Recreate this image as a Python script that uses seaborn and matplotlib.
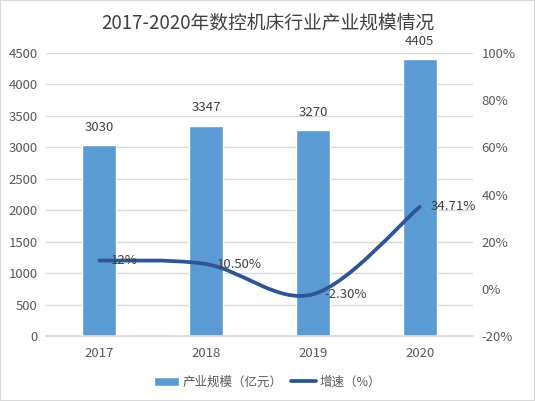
import numpy as np
import pandas as pd
import matplotlib
matplotlib.use("Agg")
import matplotlib.pyplot as plt
from matplotlib.path import Path
from matplotlib.patches import PathPatch, Rectangle
from matplotlib.lines import Line2D
from matplotlib.ticker import FuncFormatter, MultipleLocator
import seaborn as sns

years = ["2017", "2018", "2019", "2020"]
scale = [3030, 3347, 3270, 4405]
growth = [12.0, 10.5, -2.3, 34.71]
growth_labels = ["12%", "10.50%", "-2.30%", "34.71%"]
title = "2017-2020年数控机床行业产业规模情况"
bar_name = "产业规模（亿元）"
line_name = "增速（%）"

sns.set_theme(style="white")
plt.rcParams['font.family'] = ['Noto Sans CJK SC', 'DejaVu Sans']

BAR = "#5B9BD5"
LINE = "#2F5597"
TXT = "#595959"
GRID = "#D9D9D9"

fig = plt.figure(figsize=(5.35, 4.01), dpi=100)
ax = fig.add_axes([46/535, 1-336/401, (473-46)/535, (336-53)/401])

df = pd.DataFrame({"year": years, "scale": scale})
sns.barplot(data=df, x="year", y="scale", color=BAR, width=0.32, ax=ax,
            saturation=1, zorder=2)
ax.set_ylim(0, 4500)
ax.set_xlim(-0.5, 3.5)
ax.yaxis.set_major_locator(MultipleLocator(500))
ax.grid(axis="y", color=GRID, linewidth=1, zorder=0)
ax.set_axisbelow(True)
for s in ["top", "right", "left"]:
    ax.spines[s].set_visible(False)
ax.spines["bottom"].set_color(GRID)
ax.set_xlabel("")
ax.set_ylabel("")
ax.tick_params(axis="both", length=0, colors=TXT, labelsize=9.5)
ax.tick_params(axis="x", pad=8)
ax.tick_params(axis="y", pad=6)

for i, v in enumerate(scale):
    ax.annotate(str(v), (i, v), xytext=(0, 8), textcoords="offset points",
                ha="center", va="bottom", fontsize=9.5, color="#404040")

ax2 = ax.twinx()
ax2.set_ylim(-20, 100)
ax2.yaxis.set_major_locator(MultipleLocator(20))
ax2.yaxis.set_major_formatter(FuncFormatter(lambda v, p: f"{v:.0f}%"))
for s in ax2.spines.values():
    s.set_visible(False)
ax2.tick_params(axis="y", length=0, colors=TXT, labelsize=9.5, pad=6)
ax2.grid(False)

# smooth line (Catmull-Rom Bezier through data points)
xs = np.arange(len(growth), dtype=float)
ys = np.array(growth, dtype=float)
pts = np.column_stack([xs, ys])
verts = [tuple(pts[0])]
codes = [Path.MOVETO]
n = len(pts)
for i in range(n - 1):
    p0 = pts[i - 1] if i > 0 else pts[i]
    p1 = pts[i]
    p2 = pts[i + 1]
    p3 = pts[i + 2] if i + 2 < n else pts[i + 1]
    c1 = p1 + (p2 - p0) / 6.0
    c2 = p2 - (p3 - p1) / 6.0
    verts += [tuple(c1), tuple(c2), tuple(p2)]
    codes += [Path.CURVE4] * 3
patch = PathPatch(Path(verts, codes), facecolor="none", edgecolor=LINE,
                  linewidth=2.7, capstyle="round", joinstyle="round", zorder=3)
ax2.add_patch(patch)

for i, (v, lab) in enumerate(zip(growth, growth_labels)):
    ax2.annotate(lab, (i, v), xytext=(8, 0), textcoords="offset points",
                 ha="left", va="center", fontsize=9.5, color="#404040")

fig.text(0.5, 1 - 23/401, title, ha="center", va="center", fontsize=13.5,
         color="#404040")

handles = [Rectangle((0, 0), 1, 1, facecolor=BAR),
           Line2D([0], [0], color=LINE, linewidth=2.7)]
fig.legend(handles, [bar_name, line_name], loc="center",
           bbox_to_anchor=(0.5, 1 - 382/401), ncol=2, frameon=False,
           fontsize=9, labelcolor=TXT, handlelength=2.0, columnspacing=0.6,
           handletextpad=0.3)

fig.patches.append(Rectangle((0, 0), 1, 1, transform=fig.transFigure,
                             facecolor="none", edgecolor=GRID, linewidth=1.5))

fig.savefig("out.png", dpi=100)
